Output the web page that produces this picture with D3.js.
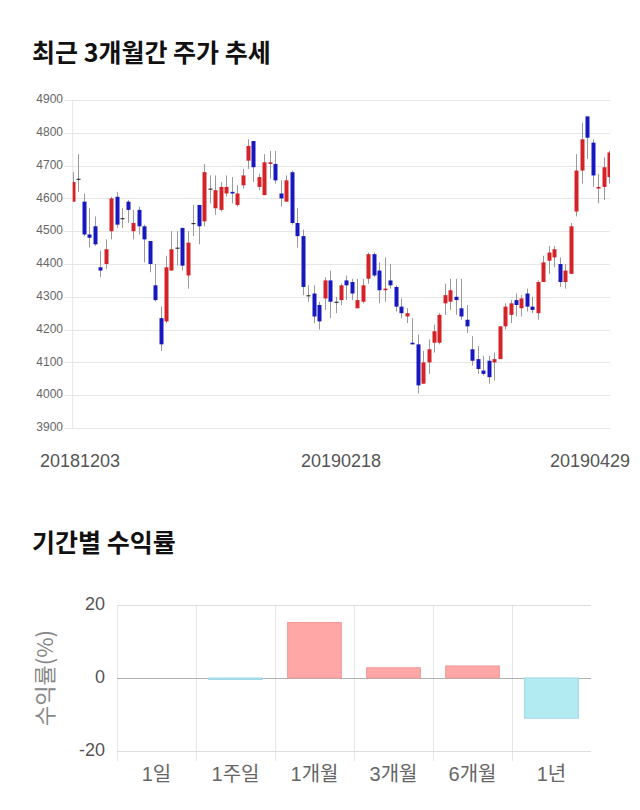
<!DOCTYPE html>
<html>
<head>
<meta charset="utf-8">
<script src="https://cdn.jsdelivr.net/npm/d3@7"></script>
<style>
  body { margin: 0; background: #ffffff; }
  .c_title { font-family: "Noto Sans CJK KR", sans-serif; font-weight: bold; font-size: 25px; fill: #111111; }
  .c_tick_s { font-family: "Liberation Sans", Arial, sans-serif; font-size: 12px; fill: #666666; }
  .c_tick_l { font-family: "Liberation Sans", "Noto Sans CJK KR", sans-serif; font-size: 18px; fill: #555555; }
  .c_tick_cat { font-family: "Liberation Sans", "Noto Sans CJK KR", sans-serif; font-size: 20px; fill: #666666; }
</style>
</head>
<body>
<div id="chart"></div>
<script>

// ------------------------------------------------- data

const dates = [
  "20181203","20181204","20181205","20181206","20181207","20181210","20181211","20181212","20181213","20181214",
  "20181217","20181218","20181219","20181220","20181221","20181224","20181226","20181227","20181228",
  "20190102","20190103","20190104","20190107","20190108","20190109","20190110","20190111","20190114","20190115",
  "20190116","20190117","20190118","20190121","20190122","20190123","20190124","20190125","20190128","20190129",
  "20190130","20190131","20190201","20190207","20190208","20190211","20190212","20190213","20190214","20190215",
  "20190218","20190219","20190220","20190221","20190222","20190225","20190226","20190227","20190228",
  "20190304","20190305","20190306","20190307","20190308","20190311","20190312","20190313","20190314","20190315",
  "20190318","20190319","20190320","20190321","20190322","20190325","20190326","20190327","20190328","20190329",
  "20190401","20190402","20190403","20190404","20190405","20190408","20190409","20190410","20190411","20190412",
  "20190415","20190416","20190417","20190418","20190419","20190422","20190423","20190424","20190425","20190426",
  "20190429"
];

const opens = [
  4590,4660,4590,4490,4515,4390,4400,4500,4605,4540,
  4590,4500,4565,4515,4470,4335,4235,4225,4380,4450,
  4510,4365,4525,4580,4530,4630,4570,4565,4615,4620,
  4580,4640,4715,4775,4635,4610,4705,4705,4615,4590,
  4680,4525,4485,4305,4310,4275,4295,4350,4285,4290,
  4350,4345,4265,4285,4355,4430,4380,4320,4350,4330,
  4270,4240,4160,4155,4035,4100,4160,4160,4280,4285,
  4300,4265,4230,4140,4110,4075,4105,4100,4110,4210,
  4245,4290,4265,4310,4270,4250,4345,4410,4420,4400,
  4345,4370,4560,4685,4850,4770,4630,4635,4665
];

const highs = [
  4680,4735,4615,4570,4545,4440,4475,4605,4620,4570,
  4595,4565,4575,4520,4470,4400,4270,4425,4500,4500,
  4510,4500,4580,4580,4705,4670,4670,4650,4670,4665,
  4640,4690,4780,4775,4675,4735,4745,4745,4655,4670,
  4685,4570,4505,4335,4335,4285,4360,4380,4300,4340,
  4365,4355,4355,4355,4435,4435,4405,4420,4400,4335,
  4295,4265,4235,4185,4135,4170,4215,4250,4340,4355,
  4355,4355,4275,4180,4150,4120,4120,4130,4210,4280,
  4290,4310,4305,4325,4300,4350,4425,4455,4455,4420,
  4400,4525,4735,4830,4850,4780,4675,4725,4745
];

const lows = [
  4590,4620,4485,4450,4455,4360,4385,4475,4510,4510,
  4525,4475,4490,4405,4375,4285,4135,4220,4380,4395,
  4380,4325,4485,4460,4515,4585,4550,4560,4605,4585,
  4575,4630,4690,4650,4625,4610,4660,4645,4575,4590,
  4520,4450,4305,4285,4220,4200,4260,4235,4250,4275,
  4290,4290,4265,4280,4340,4360,4280,4285,4325,4255,
  4235,4220,4155,4005,4035,4065,4130,4155,4245,4260,
  4245,4230,4190,4090,4065,4060,4035,4045,4110,4200,
  4220,4240,4240,4255,4250,4230,4345,4370,4390,4330,
  4325,4370,4545,4645,4720,4635,4585,4595,4645
];

const closes = [
  4650,4660,4490,4480,4460,4380,4445,4600,4520,4540,
  4565,4525,4515,4475,4400,4290,4155,4390,4445,4450,
  4395,4465,4525,4515,4680,4630,4625,4635,4635,4615,
  4615,4670,4760,4695,4665,4710,4710,4655,4600,4655,
  4525,4485,4330,4305,4240,4225,4350,4285,4285,4335,
  4335,4310,4290,4335,4430,4365,4320,4325,4335,4270,
  4250,4250,4155,4030,4100,4140,4195,4245,4305,4320,
  4290,4240,4210,4105,4080,4065,4055,4110,4210,4270,
  4280,4275,4295,4270,4260,4345,4405,4435,4445,4345,
  4380,4515,4685,4780,4785,4670,4635,4695,4740
];

const price_ticks = [3900, 4000, 4100, 4200, 4300, 4400, 4500, 4600, 4700, 4800, 4900];
const date_labels = ["20181203", "20190218", "20190429"];

const periods = ["1일", "1주일", "1개월", "3개월", "6개월", "1년"];
const returns = [0, -0.4, 15.2, 2.8, 3.3, -11.0];
const return_ticks = [-20, 0, 20];

// ------------------------------------------------- layout

const SVG_W = 640;
const SVG_H = 810;

const CANDLE_X0 = 73;
const CANDLE_X1 = 609;
const CANDLE_CLIP_X0 = 72.7;
const CANDLE_CLIP_X1 = 610;
const CANDLE_Y_TOP = 100;
const CANDLE_Y_BOTTOM = 428;
const CANDLE_BODY_W = 4;

const BAR_X0 = 117;
const BAR_X1 = 591;
const BAR_Y_TOP = 605;
const BAR_Y_BOTTOM = 751;

const COLOR_UP = "#d42228";
const COLOR_DOWN = "#1818bf";
const COLOR_GRID = "#e6e6e6";

// -------------------------------------------------

let svg = d3.select("#chart")
            .append("svg")
                .attr("width", SVG_W)
                .attr("height", SVG_H);

// ------------------------------------------------- titles

svg.append("text")
        .attr("class", "c_title")
        .attr("x", 32)
        .attr("y", 62)
        .text("최근 3개월간 주가 추세");

svg.append("text")
        .attr("class", "c_title")
        .attr("x", 32)
        .attr("y", 552)
        .text("기간별 수익률");

// ------------------------------------------------- candle chart

let scaleX_date = d3.scalePoint()
                    .domain(dates)
                    .range([CANDLE_X0, CANDLE_X1]);

let scaleY_price = d3.scaleLinear()
                    .domain([3900, 4900])
                    .range([CANDLE_Y_BOTTOM, CANDLE_Y_TOP]);

svg.append("defs")
    .append("clipPath")
        .attr("id", "clip_candle")
    .append("rect")
        .attr("x", CANDLE_CLIP_X0)
        .attr("y", CANDLE_Y_TOP - 20)
        .attr("width", CANDLE_CLIP_X1 - CANDLE_CLIP_X0)
        .attr("height", CANDLE_Y_BOTTOM - CANDLE_Y_TOP + 40);

svg.append("g")
    .selectAll("line")
    .data(price_ticks)
    .join("line")
        .attr("x1", 64)
        .attr("x2", CANDLE_CLIP_X1)
        .attr("y1", d => Math.round(scaleY_price(d)) + 0.5)
        .attr("y2", d => Math.round(scaleY_price(d)) + 0.5)
        .attr("stroke", COLOR_GRID)
        .attr("stroke-width", 1);

svg.append("line")
        .attr("x1", CANDLE_CLIP_X0)
        .attr("x2", CANDLE_CLIP_X0)
        .attr("y1", CANDLE_Y_TOP)
        .attr("y2", CANDLE_Y_BOTTOM)
        .attr("stroke", COLOR_GRID)
        .attr("stroke-width", 1);

svg.append("g")
    .selectAll("text")
    .data(price_ticks)
    .join("text")
        .attr("class", "c_tick_s")
        .attr("x", 63)
        .attr("y", d => scaleY_price(d))
        .attr("text-anchor", "end")
        .attr("dominant-baseline", "middle")
        .text(d => d);

let candles = dates.map((d, i) => ({ date: d, o: opens[i], h: highs[i], l: lows[i], c: closes[i] }));

function candle_color(d) {
    if (d.c > d.o) return COLOR_UP;
    if (d.c < d.o) return COLOR_DOWN;
    return "#333333";
}

let g_candle = svg.append("g")
                    .attr("clip-path", "url(#clip_candle)");

g_candle.selectAll("line.wick")
    .data(candles)
    .join("line")
        .attr("class", "wick")
        .attr("x1", d => Math.round(scaleX_date(d.date)) + 0.5)
        .attr("x2", d => Math.round(scaleX_date(d.date)) + 0.5)
        .attr("y1", d => scaleY_price(d.h))
        .attr("y2", d => scaleY_price(d.l))
        .attr("stroke", "#999999")
        .attr("stroke-width", 1);

g_candle.selectAll("rect.body")
    .data(candles)
    .join("rect")
        .attr("class", "body")
        .attr("x", d => Math.round(scaleX_date(d.date)) + 0.5 - CANDLE_BODY_W / 2)
        .attr("y", d => scaleY_price(Math.max(d.o, d.c)))
        .attr("width", CANDLE_BODY_W)
        .attr("height", d => Math.max(1.2, Math.abs(scaleY_price(d.o) - scaleY_price(d.c))))
        .attr("fill", d => candle_color(d));

// x labels, kept inside the picture
svg.append("g")
    .selectAll("text")
    .data(date_labels)
    .join("text")
        .attr("class", "c_tick_l")
        .attr("y", 467)
        .attr("text-anchor", "middle")
        .text(d => d)
        .attr("x", function(d) {
            let w = this.getComputedTextLength();
            return Math.max(40 + w / 2, Math.min(630 - w / 2, scaleX_date(d)));
        });

// ------------------------------------------------- returns bar chart

let scaleX_period = d3.scaleBand()
                    .domain(periods)
                    .range([BAR_X0, BAR_X1]);

let scaleY_return = d3.scaleLinear()
                    .domain([-20, 20])
                    .range([BAR_Y_BOTTOM, BAR_Y_TOP]);

// vertical grid at category boundaries
svg.append("g")
    .selectAll("line")
    .data(periods)
    .join("line")
        .attr("x1", d => Math.round(scaleX_period(d)) + 0.5)
        .attr("x2", d => Math.round(scaleX_period(d)) + 0.5)
        .attr("y1", BAR_Y_TOP)
        .attr("y2", BAR_Y_BOTTOM + 10)
        .attr("stroke", COLOR_GRID)
        .attr("stroke-width", 1);

svg.append("g")
    .selectAll("line")
    .data(return_ticks)
    .join("line")
        .attr("x1", BAR_X0)
        .attr("x2", BAR_X1)
        .attr("y1", d => Math.round(scaleY_return(d)) + 0.5)
        .attr("y2", d => Math.round(scaleY_return(d)) + 0.5)
        .attr("stroke", d => d === 0 ? "#b0b0b0" : "#dddddd")
        .attr("stroke-width", 1);

svg.append("g")
    .selectAll("text")
    .data(return_ticks)
    .join("text")
        .attr("class", "c_tick_l")
        .attr("x", 105)
        .attr("y", d => scaleY_return(d))
        .attr("text-anchor", "end")
        .attr("dominant-baseline", "middle")
        .text(d => d);

let bar_w = scaleX_period.bandwidth() * 0.68;

svg.append("g")
    .selectAll("rect")
    .data(periods.map((p, i) => ({ period: p, value: returns[i] })).filter(d => d.value !== 0))
    .join("rect")
        .attr("x", d => scaleX_period(d.period) + (scaleX_period.bandwidth() - bar_w) / 2)
        .attr("y", d => scaleY_return(Math.max(0, d.value)))
        .attr("width", bar_w)
        .attr("height", d => Math.max(1, Math.abs(scaleY_return(d.value) - scaleY_return(0))))
        .attr("fill", d => d.value > 0 ? "#ffa6a6" : "#b3ebf3")
        .attr("stroke", d => d.value > 0 ? "#ef9a9a" : "#9fd6e4")
        .attr("stroke-width", 1);

svg.append("g")
    .selectAll("text")
    .data(periods)
    .join("text")
        .attr("class", "c_tick_cat")
        .attr("x", d => scaleX_period(d) + scaleX_period.bandwidth() / 2)
        .attr("y", 781)
        .attr("text-anchor", "middle")
        .text(d => d);

svg.append("text")
        .attr("transform", "translate(53," + scaleY_return(0) + ") rotate(-90)")
        .attr("text-anchor", "middle")
        .attr("font-family", "Noto Sans CJK KR, sans-serif")
        .attr("font-size", 22)
        .attr("fill", "#888888")
        .text("수익률(%)");

</script>
</body>
</html>
